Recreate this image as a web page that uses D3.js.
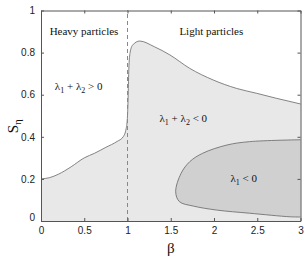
<!DOCTYPE html>
<html>
<head>
<meta charset="utf-8">
<script src="https://cdn.jsdelivr.net/npm/d3@7"></script>
<style>
  body { margin: 0; background: #fff; }
  .tick-label { font-family: "Liberation Sans", Arial, sans-serif; font-size: 10px; fill: #222; }
  .note { font-family: "Liberation Serif", "Times New Roman", serif; font-size: 11px; fill: #111; }
</style>
</head>
<body>
<div class="chart"></div>
<script>
const FRAME_WIDTH = 307;
const FRAME_HEIGHT = 258;
const MARGINS = {left: 41, right: 6.5, top: 10.5, bottom: 37};

// upper boundary of the lambda1+lambda2<0 region
const UPPER_BETA = [0, 0.1, 0.2, 0.35, 0.5, 0.62, 0.75, 0.88, 0.95, 0.985, 1.0, 1.008, 1.015, 1.03, 1.06, 1.14, 1.31, 1.49, 1.72, 1.99, 2.26, 2.49, 2.72, 3.0];
const UPPER_S    = [0.2, 0.206, 0.222, 0.258, 0.3, 0.322, 0.35, 0.378, 0.4, 0.44, 0.5, 0.6, 0.72, 0.8, 0.836, 0.855, 0.828, 0.789, 0.725, 0.67, 0.63, 0.607, 0.583, 0.556];

// closed boundary of the lambda1<0 region (clockwise from top right)
const INNER_BETA = [3.0, 2.41, 2.15, 1.87, 1.72, 1.62, 1.557, 1.6, 1.76, 2.03, 2.41, 2.88, 3.0];
const INNER_S    = [0.386, 0.377, 0.361, 0.322, 0.282, 0.227, 0.139, 0.092, 0.071, 0.052, 0.037, 0.02, 0.019];

const X_TICKS = [0, 0.5, 1, 1.5, 2, 2.5, 3];
const Y_TICKS = [0, 0.2, 0.4, 0.6, 0.8, 1];

const WIDTH = FRAME_WIDTH - MARGINS.left - MARGINS.right;
const HEIGHT = FRAME_HEIGHT - MARGINS.top - MARGINS.bottom;

const svg = d3.select(".chart").append("svg")
  .attr("width", FRAME_WIDTH)
  .attr("height", FRAME_HEIGHT);

const X_SCALE = d3.scaleLinear().domain([0, 3]).range([0, WIDTH]);
const Y_SCALE = d3.scaleLinear().domain([0, 1]).range([HEIGHT, 0]);

const plot = svg.append("g")
  .attr("transform", "translate(" + MARGINS.left + "," + MARGINS.top + ")");

const upper = UPPER_BETA.map((b, i) => [b, UPPER_S[i]]);
const inner = INNER_BETA.map((b, i) => [b, INNER_S[i]]);

const area = d3.area()
  .x(d => X_SCALE(d[0]))
  .y0(Y_SCALE(0))
  .y1(d => Y_SCALE(d[1]))
  .curve(d3.curveMonotoneX);

plot.append("path").datum(upper)
  .attr("d", area)
  .attr("fill", "#e8e8e8");

const line = d3.line()
  .x(d => X_SCALE(d[0]))
  .y(d => Y_SCALE(d[1]))
  .curve(d3.curveMonotoneX);

plot.append("path").datum(upper)
  .attr("d", line)
  .attr("fill", "none")
  .attr("stroke", "#666")
  .attr("stroke-width", 0.8);

const innerLine = d3.line()
  .x(d => X_SCALE(d[0]))
  .y(d => Y_SCALE(d[1]))
  .curve(d3.curveCatmullRom);

plot.append("path").datum(inner)
  .attr("d", innerLine)
  .attr("fill", "#d0d0d0")
  .attr("stroke", "#666")
  .attr("stroke-width", 0.8);

// dashed separator at beta = 1
plot.append("line")
  .attr("x1", X_SCALE(1)).attr("x2", X_SCALE(1))
  .attr("y1", Y_SCALE(0)).attr("y2", Y_SCALE(1))
  .attr("stroke", "#888")
  .attr("stroke-width", 1)
  .attr("stroke-dasharray", "4,3");

// axes box with inward ticks
function styleAxis(g) {
  g.select(".domain").attr("stroke", "#555");
  g.selectAll(".tick line").attr("stroke", "#555");
}

const FMT = d3.format("~g");

plot.append("g")
  .attr("transform", "translate(0," + HEIGHT + ")")
  .call(d3.axisBottom(X_SCALE).tickValues(X_TICKS).tickSizeInner(-3).tickSizeOuter(0).tickPadding(6).tickFormat(FMT))
  .call(styleAxis)
  .call(g => g.selectAll("text").attr("class", "tick-label").attr("font-family", null).attr("font-size", null).attr("fill", null));

plot.append("g")
  .call(d3.axisTop(X_SCALE).tickValues(X_TICKS).tickSizeInner(-3).tickSizeOuter(0).tickFormat(""))
  .call(styleAxis);

plot.append("g")
  .call(d3.axisLeft(Y_SCALE).tickValues(Y_TICKS).tickSizeInner(-3).tickSizeOuter(0).tickPadding(6).tickFormat(FMT))
  .call(styleAxis)
  .call(g => g.selectAll("text").attr("class", "tick-label").attr("font-family", null).attr("font-size", null).attr("fill", null))
  .call(g => g.selectAll(".tick").filter(d => d === 0).select("text").attr("dy", "-0.1em"));

plot.append("g")
  .attr("transform", "translate(" + WIDTH + ",0)")
  .call(d3.axisRight(Y_SCALE).tickValues(Y_TICKS).tickSizeInner(-3).tickSizeOuter(0).tickFormat(""))
  .call(styleAxis);

// region notes
plot.append("text").attr("class", "note")
  .attr("x", X_SCALE(0.1)).attr("y", Y_SCALE(0.885))
  .text("Heavy particles");

plot.append("text").attr("class", "note")
  .attr("x", X_SCALE(1.6)).attr("y", Y_SCALE(0.885))
  .text("Light particles");

function lambdaText(x, y, parts) {
  const t = plot.append("text").attr("class", "note").attr("x", x).attr("y", y);
  parts.forEach(p => {
    const s = t.append("tspan").text(p.text);
    if (p.sub) s.attr("font-size", "8px").attr("dy", "3");
    if (p.back) s.attr("dy", "-3");
  });
}

lambdaText(X_SCALE(0.16), Y_SCALE(0.62), [
  {text: "λ"}, {text: "1", sub: true}, {text: " + λ", back: true}, {text: "2", sub: true}, {text: " > 0", back: true}
]);

lambdaText(X_SCALE(1.37), Y_SCALE(0.47), [
  {text: "λ"}, {text: "1", sub: true}, {text: " + λ", back: true}, {text: "2", sub: true}, {text: " < 0", back: true}
]);

lambdaText(X_SCALE(2.19), Y_SCALE(0.185), [
  {text: "λ"}, {text: "1", sub: true}, {text: " < 0", back: true}
]);

// axis titles
svg.append("text")
  .attr("x", MARGINS.left + X_SCALE(1.5))
  .attr("y", 253)
  .attr("text-anchor", "middle")
  .attr("font-family", "Liberation Serif, serif")
  .attr("font-size", "15px")
  .attr("fill", "#111")
  .text("β");

const ylab = svg.append("text")
  .attr("transform", "translate(18," + (MARGINS.top + Y_SCALE(0.45)) + ") rotate(-90)")
  .attr("text-anchor", "middle")
  .attr("font-family", "Liberation Serif, serif")
  .attr("font-size", "15px")
  .attr("fill", "#111");
ylab.append("tspan").text("S");
ylab.append("tspan").attr("font-size", "11px").attr("dy", "3").text("η");
</script>
</body>
</html>
